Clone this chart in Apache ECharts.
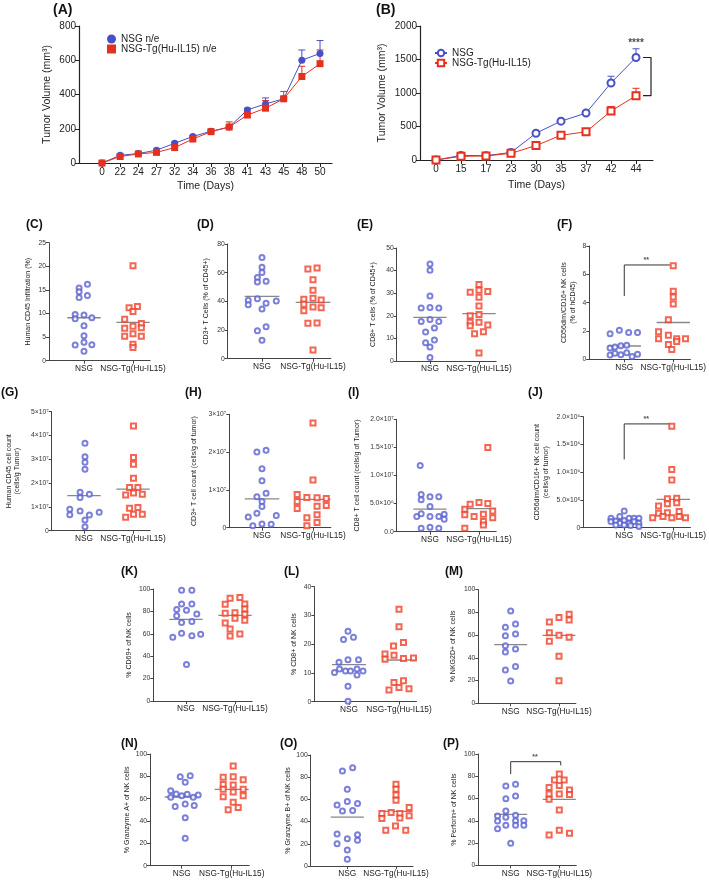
<!DOCTYPE html>
<html>
<head>
<meta charset="utf-8">
<script src="https://cdn.jsdelivr.net/npm/echarts@6/dist/echarts.min.js"></script>
<style>
html, body { margin: 0; padding: 0; background: #fff; }
#main { width: 709px; height: 881px; }
</style>
</head>
<body>
<div id="main"></div>
<script>
// ---- (A) tumour growth, n/e
var daysA = ['0', '22', '24', '27', '32', '34', '36', '38', '41', '43', '45', '48', '50'];
var nsgA = [0, 45, 55, 75, 115, 155, 185, 210, 310, 345, 375, 600, 640];
var nsgAErr = [0, 5, 5, 6, 8, 6, 6, 8, 10, 35, 12, 60, 75];
var tgA = [0, 38, 53, 62, 90, 140, 183, 210, 280, 320, 375, 505, 580];
var tgAErr = [0, 5, 5, 6, 8, 8, 8, 30, 10, 45, 43, 60, 80];

// ---- (B) tumour growth
var daysB = ['0', '15', '17', '23', '30', '35', '37', '42', '44'];
var nsgB = [0, 68, 65, 112, 400, 580, 700, 1150, 1530];
var nsgBErr = [0, 5, 5, 10, 15, 20, 40, 100, 130];
var tgB = [0, 55, 60, 100, 215, 370, 420, 730, 960];
var tgBErr = [0, 5, 5, 10, 15, 20, 40, 70, 110];

// ---- scatter panels: values and horizontal jitter (in group widths)
var cNsg = [16.2, 15.4, 14.6, 13.8, 13.4, 9.8, 9.7, 8.9, 9.1, 7.4, 5.3, 3.3, 3.9, 3.4, 2.0];
var cNsgX = [0.07, -0.1, -0.1, 0.07, -0.1, -0.18, 0, -0.18, 0.16, 0, 0, -0.18, 0, 0.16, 0];
var cTg = [20.1, 11.2, 11.5, 10.4, 8.8, 7.9, 6.9, 7.3, 7.0, 5.2, 5.7, 5.2, 3.5, 2.8];
var cTgX = [0, -0.08, 0.09, 0, -0.17, 0.17, -0.17, 0, 0.17, -0.17, 0, 0.17, 0, 0];
var cMed = [9.1, 8.1];

var dNsg = [70.5, 63.7, 60.2, 56.7, 53.5, 54.0, 40.7, 41.9, 38.6, 40.2, 37.7, 34.6, 19.5, 22.3, 12.8];
var dNsgX = [0, 0, 0, -0.09, -0.09, 0.08, -0.27, -0.09, 0.08, 0.28, -0.27, 0, -0.09, 0.08, 0];
var dTg = [62.6, 63.3, 55, 47.7, 41.4, 42.1, 41, 37.9, 36, 35.6, 33.5, 24.7, 24.9, 6.0];
var dTgX = [-0.1, 0.08, 0, 0, -0.18, 0, 0.16, -0.18, 0, 0.16, -0.18, -0.1, 0.08, 0];
var dMed = [43.5, 39.3];

var eNsg = [42.9, 40.1, 28.8, 23.5, 23.7, 23.5, 17.5, 18.4, 17.5, 14.6, 12.8, 9.3, 8.1, 6.2, 1.6];
var eNsgX = [0, 0, 0, -0.18, 0, 0.18, -0.18, 0, 0.18, 0.09, -0.09, 0.09, -0.09, 0, 0];
var eTg = [33.8, 30.4, 31.3, 30.7, 28.2, 24.3, 20.6, 20, 17.2, 17.2, 15.6, 15.9, 12.1, 12.9, 3.5];
var eTgX = [0, -0.18, 0, 0.18, 0, 0, 0, -0.18, -0.18, 0, -0.18, 0.18, -0.09, 0.09, 0];
var eMed = [19.3, 21];

var fNsg = [1.81, 2.05, 1.9, 1.9, 0.8, 0.87, 0.96, 1.0, 0.3, 0.42, 0.33, 0.47, 0.2, 0.35];
var fNsgX = [-0.29, -0.1, 0.09, 0.27, -0.29, -0.19, -0.07, 0.05, -0.29, -0.19, -0.07, 0.05, 0.16, 0.27];
var fTg = [6.6, 4.8, 4.4, 3.9, 2.8, 1.95, 1.45, 1.7, 1.45, 1.45, 1.05, 1.25, 0.7];
var fTgX = [0, 0, 0, 0, -0.1, -0.3, -0.3, -0.1, 0.07, 0.25, -0.1, 0.07, -0.03];
var fMed = [0.94, 2.6];

var gNsg = [3.67e7, 3.11e7, 2.88e7, 2.58e7, 1.62e7, 1.53e7, 1.4e7, 0.9e7, 0.83e7, 0.78e7, 0.67e7, 0.66e7, 0.45e7, 0.17e7];
var gNsgX = [0.02, 0.02, 0.02, 0.02, -0.08, 0.11, -0.08, -0.29, -0.08, 0.31, -0.29, 0.11, 0.02, 0.02];
var gTg = [4.4e7, 3.08e7, 2.79e7, 2.2e7, 1.82e7, 1.82e7, 1.5e7, 1.58e7, 1.53e7, 0.94e7, 0.98e7, 0.56e7, 0.69e7, 0.69e7];
var gTgX = [0.01, 0.01, 0.01, 0.01, -0.07, 0.1, -0.15, 0.01, 0.19, -0.07, 0.1, -0.15, 0.01, 0.19];
var gMed = [1.47e7, 1.75e7];

var hNsg = [2.0e7, 2.05e7, 1.56e7, 1.24e7, 0.91e7, 0.82e7, 0.69e7, 0.56e7, 0.28e7, 0.38e7, 0.32e7, 0.05e7, 0.1e7, 0.09e7];
var hNsgX = [-0.1, 0.08, 0, 0, 0.08, -0.1, 0, 0, -0.27, -0.1, 0.28, -0.18, 0, 0.18];
var hTg = [2.77e7, 1.26e7, 0.88e7, 0.8e7, 0.79e7, 0.77e7, 0.69e7, 0.51e7, 0.57e7, 0.59e7, 0.26e7, 0.34e7, 0.05e7, 0.14e7];
var hTgX = [0, 0, -0.31, -0.12, 0.08, 0.26, -0.31, -0.31, 0.08, 0.26, -0.12, 0.08, -0.12, 0.08];
var hMed = [0.76e7, 0.75e7];

var iNsg = [11.8e6, 6.6e6, 5.7e6, 6.2e6, 6.2e6, 4.5e6, 2.7e6, 3.2e6, 2.7e6, 2.7e6, 3.1e6, 2.2e6, 0.6e6, 0.8e6, 0.6e6];
var iNsgX = [-0.2, -0.18, -0.18, 0, 0.18, 0, -0.27, -0.18, 0, 0.18, 0.29, 0.29, -0.18, 0, 0.18];
var iTg = [15.0e6, 4.9e6, 5.2e6, 5.0e6, 4.0e6, 3.7e6, 3.0e6, 2.7e6, 3.1e6, 2.5e6, 1.8e6, 0.6e6, 1.2e6];
var iTgX = [0.18, -0.18, 0, 0.18, -0.29, 0.28, -0.29, -0.1, 0.09, 0.28, 0.09, -0.29, 0.09];
var iMed = [4.0e6, 4.1e6];

var jNsg = [3.0e5, 1.7e5, 2.0e5, 1.7e5, 1.7e5, 1.7e5, 1.1e5, 1.2e5, 0.8e5, 1.3e5, 0.8e5, 1.1e5, 0.8e5, 0.5e5, 0.5e5, 0.4e5, 0.2e5];
var jNsgX = [0, -0.27, -0.09, 0.1, 0.2, 0.3, -0.27, -0.17, -0.09, 0, 0.1, 0.2, 0.3, -0.17, 0, 0.13, 0.3];
var jTg = [18.3e5, 10.5e5, 8.6e5, 5.2e5, 5.3e5, 3.9e5, 4.3e5, 4.5e5, 2.6e5, 2.7e5, 2.9e5, 1.8e5, 2.0e5, 1.8e5, 2.0e5, 1.8e5];
var jTgX = [-0.03, -0.03, -0.03, -0.12, 0.07, -0.3, -0.12, 0.07, -0.3, -0.12, 0.12, -0.42, -0.21, -0.03, 0.12, 0.25];
var jMed = [1.4e5, 5.1e5];

var kNsg = [98.8, 98.8, 86.6, 86.6, 81.8, 81, 76.2, 77.7, 70, 71, 57, 60.4, 58.3, 59.5, 32.7];
var kNsgX = [-0.09, 0.12, -0.09, 0.12, -0.19, 0.01, -0.19, 0.22, -0.09, 0.12, -0.27, -0.09, 0.12, 0.3, 0.01];
var kTg = [91.7, 92.3, 86.3, 86.6, 82.1, 78.3, 78.9, 77.4, 73.8, 72, 69.6, 64.3, 58, 59.8];
var kTgX = [-0.1, 0.1, -0.2, 0.2, 0.2, -0.2, 0, 0.2, 0, 0.2, -0.2, -0.1, -0.1, 0.1];
var kMed = [72.9, 76.5];

var lNsg = [24.5, 21.6, 22.4, 13.7, 14.6, 14.6, 10.2, 11.4, 10.7, 10.7, 11.4, 9.3, 10.7, 5.4, 0.2];
var lNsgX = [-0.02, -0.11, 0.09, -0.2, -0.02, 0.19, -0.29, -0.19, -0.07, 0.03, 0.16, 0.16, 0.28, -0.02, -0.02];
var lTg = [32.2, 26.1, 19.4, 20.6, 16.6, 16.2, 14.8, 15.0, 15.2, 6.7, 7.3, 4.1, 4.9, 4.5];
var lTgX = [0, 0, -0.11, 0.09, -0.28, -0.1, -0.28, 0.09, 0.29, -0.1, 0.09, -0.2, 0, 0.2];
var lMed = [12.9, 14.5];

var mNsg = [81.2, 66.9, 69.8, 59.5, 61, 50.7, 45.2, 47.8, 29.3, 32.3, 19.6];
var mNsgX = [0, -0.11, 0.1, -0.11, 0.1, -0.11, -0.11, 0.1, -0.11, 0.1, 0];
var mTg = [71.6, 75.4, 78.3, 73.3, 62, 54.5, 59.8, 58, 41.3, 19.9];
var mTgX = [-0.2, 0, 0.21, 0.21, -0.2, -0.2, 0, 0.21, 0, 0];
var mMed = [51.6, 59.8];

var nNsg = [79.7, 80.6, 74.6, 67.2, 64.2, 62.7, 63.9, 63.3, 61.2, 61.2, 53.1, 55.2, 54, 43, 24.5];
var nNsgX = [-0.03, 0.17, 0.07, -0.22, -0.11, 0, 0.11, 0.33, -0.22, 0.23, -0.13, 0.07, 0.25, 0.07, 0.07];
var nTg = [89.3, 79.1, 79.7, 77, 72.8, 72.2, 68.4, 68.4, 66, 61.8, 62.7, 56.7, 50, 52.2];
var nTgX = [0.03, -0.17, 0.03, 0.23, -0.17, 0.03, -0.17, 0.23, 0.03, -0.17, 0.23, 0.03, -0.07, 0.13];
var nMed = [61.5, 68.4];

var oNsg = [85.6, 88.6, 69.1, 55, 58, 56.2, 49.5, 50.1, 28.8, 28.2, 20.1, 24.6, 23.1, 14.4, 6];
var oNsgX = [-0.1, 0.11, 0, -0.21, 0, 0.21, -0.1, 0.11, -0.21, 0.21, -0.21, 0, 0.21, 0, 0];
var oTg = [73.6, 69.1, 64, 59.2, 47.4, 48.3, 47.4, 52.6, 42.9, 43.2, 45.3, 32.1, 36, 32.1];
var oTgX = [0, 0, 0, 0, -0.29, -0.1, 0.08, 0.27, -0.29, 0.08, 0.27, -0.21, -0.01, 0.2];
var oMed = [44.1, 49.2];

var pNsg = [71.3, 72.8, 62.3, 59.9, 48.8, 44.3, 43.1, 44.9, 39.8, 40.1, 40.1, 32.9, 35.9, 35.9, 35.9, 19.8];
var pNsgX = [-0.1, 0.1, 0.1, -0.1, -0.1, -0.27, -0.1, 0.1, -0.27, 0.1, 0.27, -0.27, -0.1, 0.1, 0.27, 0];
var pTg = [82, 76.6, 76.6, 69.8, 71.6, 67.7, 64.1, 64.1, 63.5, 59.3, 49.7, 31.4, 27.2, 28.7];
var pTgX = [0, -0.1, 0.1, -0.21, 0, 0.21, -0.21, 0, 0.21, -0.21, 0, 0, -0.21, 0.21];
var pMed = [45.8, 59.3];

var groupNames = ['NSG', 'NSG-Tg(Hu-IL15)'];

var FONT = 'Liberation Sans, Arial, sans-serif';
var BLUE = '#4a4fc6', RED = '#e5301d';
var SBLUE = '#5a60cf', SRED = '#ef4028';
var AX = '#444';

var chart = echarts.init(document.getElementById('main'));
var grids = [], xAxes = [], yAxes = [], series = [], titles = [];

function addTitle(t, x, y, size) {
  titles.push({ text: t, left: x, top: y, padding: 0,
    textStyle: { fontSize: size, fontWeight: 'bold', color: '#111', fontFamily: FONT } });
}

function errSeries(gi, means, errs, color) {
  return {
    type: 'custom', xAxisIndex: gi, yAxisIndex: gi, z: 1, silent: true,
    data: means.map(function (m, i) { return [i, m, m + errs[i]]; }),
    renderItem: function (params, api) {
      var p0 = api.coord([api.value(0), api.value(1)]);
      var p1 = api.coord([api.value(0), api.value(2)]);
      var st = { stroke: color, lineWidth: 1 };
      return { type: 'group', children: [
        { type: 'line', shape: { x1: p0[0], y1: p0[1], x2: p1[0], y2: p1[1] }, style: st },
        { type: 'line', shape: { x1: p1[0] - 3.5, y1: p1[1], x2: p1[0] + 3.5, y2: p1[1] }, style: st }
      ] };
    }
  };
}

function growthPanel(p) {
  var gi = grids.length;
  var xmin = -(p.x0 - p.left) / p.step;
  var xmax = xmin + (p.right - p.left) / p.step;
  var idx = p.days.map(function (d, i) { return i; });
  grids.push({ left: p.left, top: p.top, width: p.right - p.left, height: p.bottom - p.top });
  xAxes.push({
    gridIndex: gi, type: 'value', min: xmin, max: xmax, splitLine: { show: false },
    axisLine: { show: true, onZero: false, lineStyle: { color: '#222', width: 1.2 } },
    axisTick: { show: true, customValues: idx, length: 4, lineStyle: { color: '#222' } },
    axisLabel: { customValues: idx, formatter: function (v) { return p.days[Math.round(v)]; },
      fontSize: 10, color: '#222', margin: 4, fontFamily: FONT },
    name: 'Time (Days)', nameLocation: 'middle', nameGap: p.xGap,
    nameTextStyle: { fontSize: 10.5, color: '#222', fontFamily: FONT }
  });
  yAxes.push({
    gridIndex: gi, type: 'value', min: 0, max: p.ymax, interval: p.yint, splitLine: { show: false },
    axisLine: { show: true, onZero: false, lineStyle: { color: '#222', width: 1.2 } },
    axisTick: { show: true, length: 4, lineStyle: { color: '#222' } },
    axisLabel: { fontSize: 10, color: '#222', margin: 3, fontFamily: FONT,
      formatter: function (v) { return String(v); } },
    name: 'Tumor Volume (mm³)', nameLocation: 'middle', nameGap: p.yGap,
    nameTextStyle: { fontSize: 10.5, color: '#222', fontFamily: FONT }
  });
  series.push(errSeries(gi, p.nsg, p.nsgErr, BLUE));
  series.push(errSeries(gi, p.tg, p.tgErr, RED));
  series.push({ type: 'line', name: p.names[0], xAxisIndex: gi, yAxisIndex: gi, z: 3,
    data: p.nsg.map(function (v, i) { return [i, v]; }), symbol: p.sym[0], symbolSize: p.size,
    lineStyle: { color: BLUE, width: 1 }, itemStyle: { color: BLUE, borderWidth: p.bw } });
  series.push({ type: 'line', name: p.names[1], xAxisIndex: gi, yAxisIndex: gi, z: 4,
    data: p.tg.map(function (v, i) { return [i, v]; }), symbol: p.sym[1], symbolSize: p.size,
    lineStyle: { color: RED, width: 1 }, itemStyle: { color: RED, borderWidth: p.bw } });
  return gi;
}

function scatterPanel(p) {
  var gi = grids.length;
  var xmin = 1 - (p.nsg - p.left) / p.sp, xmax = 2.35;
  grids.push({ left: p.left, top: p.top, width: (xmax - xmin) * p.sp, height: p.bottom - p.top });
  xAxes.push({
    gridIndex: gi, type: 'value', min: xmin, max: xmax, splitLine: { show: false },
    axisLine: { show: true, onZero: false, lineStyle: { color: AX, width: 1 } },
    axisTick: { show: true, customValues: [1, 2], length: 3, lineStyle: { color: AX } },
    axisLabel: { customValues: [1, 2], formatter: function (v) { return groupNames[Math.round(v) - 1]; },
      fontSize: 8.3, color: '#222', margin: 4, fontFamily: FONT }
  });
  yAxes.push({
    gridIndex: gi, type: 'value', min: 0, max: p.max, interval: p.int, splitLine: { show: false },
    axisLine: { show: true, onZero: false, lineStyle: { color: AX, width: 1 } },
    axisTick: { show: true, length: 3, lineStyle: { color: AX } },
    axisLabel: { fontSize: 6.8, color: '#333', margin: 3, fontFamily: FONT, formatter: p.fmt },
    name: p.name, nameLocation: 'middle', nameGap: p.gap,
    nameTextStyle: { fontSize: 7, color: '#222', fontFamily: FONT, lineHeight: 8.5 }
  });
  var d = p.data;
  series.push({ type: 'line', xAxisIndex: gi, yAxisIndex: gi, symbol: 'none', silent: true, z: 2,
    data: [[0.66, d[4][0]], [1.34, d[4][0]]], lineStyle: { color: '#888', width: 1.3 } });
  series.push({ type: 'line', xAxisIndex: gi, yAxisIndex: gi, symbol: 'none', silent: true, z: 2,
    data: [[1.66, d[4][1]], [2.34, d[4][1]]], lineStyle: { color: '#888', width: 1.3 } });
  series.push({ type: 'scatter', name: p.key + '-NSG', xAxisIndex: gi, yAxisIndex: gi, z: 3,
    data: d[0].map(function (v, i) { return [1 + d[1][i], v]; }),
    symbol: 'emptyCircle', symbolSize: 5, itemStyle: { color: SBLUE, borderWidth: 1.1 } });
  series.push({ type: 'scatter', name: p.key + '-Tg', xAxisIndex: gi, yAxisIndex: gi, z: 3,
    data: d[2].map(function (v, i) { return [2 + d[3][i], v]; }),
    symbol: 'emptyRect', symbolSize: 5, itemStyle: { color: SRED, borderWidth: 1.1 } });
  if (p.bracket) {
    series.push({ type: 'line', xAxisIndex: gi, yAxisIndex: gi, symbol: 'none', silent: true, z: 2,
      data: p.bracket, lineStyle: { color: '#333', width: 1 } });
    series.push({ type: 'scatter', xAxisIndex: gi, yAxisIndex: gi, symbolSize: 1, silent: true,
      itemStyle: { color: 'rgba(0,0,0,0)' }, data: [p.star],
      label: { show: true, position: 'inside', formatter: '**', fontSize: 7, fontWeight: 'bold', color: '#222' } });
  }
  addTitle('(' + p.key + ')', p.tx, p.ty, 12);
}

// (A)
growthPanel({ left: 79, right: 332, top: 26, bottom: 163, x0: 102, step: 18.17, days: daysA,
  ymax: 800, yint: 200, xGap: 18, yGap: 26, nsg: nsgA, nsgErr: nsgAErr, tg: tgA, tgErr: tgAErr,
  names: ['NSG n/e', 'NSG-Tg(Hu-IL15) n/e'], sym: ['circle', 'rect'], size: 7, bw: 0 });
addTitle('(A)', 53, 3, 14);

// (B)
var gB = growthPanel({ left: 420, right: 653, top: 26, bottom: 160, x0: 436, step: 25, days: daysB,
  ymax: 2000, yint: 500, xGap: 20, yGap: 32, nsg: nsgB, nsgErr: nsgBErr, tg: tgB, tgErr: tgBErr,
  names: ['NSG', 'NSG-Tg(Hu-IL15)'], sym: ['emptyCircle', 'emptyRect'], size: 7, bw: 1.2 });
addTitle('(B)', 376, 3, 14);
var lastB = nsgB.length - 1;
series.push({ type: 'line', xAxisIndex: gB, yAxisIndex: gB, symbol: 'none', silent: true,
  data: [[lastB + 0.28, nsgB[lastB]], [lastB + 0.6, nsgB[lastB]], [lastB + 0.6, tgB[lastB]], [lastB + 0.28, tgB[lastB]]],
  lineStyle: { color: '#222', width: 1.2 } });
series.push({ type: 'scatter', xAxisIndex: gB, yAxisIndex: gB, symbolSize: 1, silent: true,
  itemStyle: { color: 'rgba(0,0,0,0)' }, data: [[lastB, nsgB[lastB] + nsgBErr[lastB] + 90]],
  label: { show: true, position: 'inside', formatter: '****', fontSize: 10, fontWeight: 'bold', color: '#222' } });

function fmtPow(v, unit, exp, dec) {
  return (v / unit).toFixed(dec) + '×10' + exp;
}

scatterPanel({ key: 'C', left: 49, nsg: 84, sp: 49, top: 242.7, bottom: 360.7, max: 25, int: 5,
  name: 'Human CD45 Infiltration (%)', gap: 17, data: [cNsg, cNsgX, cTg, cTgX, cMed], tx: 26, ty: 219 });
scatterPanel({ key: 'D', left: 227.7, nsg: 262, sp: 51, top: 244, bottom: 358.7, max: 80, int: 20,
  name: 'CD3+ T Cells (% of CD45+)', gap: 17, data: [dNsg, dNsgX, dTg, dTgX, dMed], tx: 197, ty: 219 });
scatterPanel({ key: 'E', left: 396.7, nsg: 430, sp: 49, top: 248, bottom: 361, max: 50, int: 10,
  name: 'CD8+ T cells (% of CD45+)', gap: 19, data: [eNsg, eNsgX, eTg, eTgX, eMed], tx: 357, ty: 219 });
scatterPanel({ key: 'F', left: 589.3, nsg: 625, sp: 50, top: 246, bottom: 359.3, max: 8, int: 2,
  name: 'CD56dim/CD16+ NK cells\n(% of hCD45)', gap: 12, data: [fNsg, fNsgX, fTg, fTgX, fMed], tx: 557, ty: 219,
  bracket: [[1, 4.47], [1, 6.66], [1.93, 6.66]], star: [1.45, 7.0] });

scatterPanel({ key: 'G', left: 51.7, nsg: 84, sp: 49, top: 411.7, bottom: 530.7, max: 5e7, int: 1e7,
  name: 'Human CD45 cell count\n(cells/g Tumor)', gap: 30, data: [gNsg, gNsgX, gTg, gTgX, gMed], tx: 1, ty: 387,
  fmt: function (v) { return v === 0 ? '0' : fmtPow(v, 1e7, '⁷', 0); } });
scatterPanel({ key: 'H', left: 229.3, nsg: 262, sp: 51, top: 414.3, bottom: 527.7, max: 3e7, int: 1e7,
  name: 'CD3+ T cell count (cells/g of tumor)', gap: 31, data: [hNsg, hNsgX, hTg, hTgX, hMed], tx: 185, ty: 387,
  fmt: function (v) { return v === 0 ? '0' : fmtPow(v, 1e7, '⁷', 0); } });
scatterPanel({ key: 'I', left: 396.7, nsg: 430, sp: 49, top: 419.3, bottom: 531.7, max: 2e7, int: 5e6,
  name: 'CD8+ T cell count (cells/g of Tumor)', gap: 35, data: [iNsg, iNsgX, iTg, iTgX, iMed], tx: 348, ty: 387,
  fmt: function (v) { return v === 0 ? '0.0' : v < 1e7 ? fmtPow(v, 1e6, '⁶', 1) : fmtPow(v, 1e7, '⁷', 1); } });
scatterPanel({ key: 'J', left: 583.3, nsg: 625, sp: 50, top: 416.7, bottom: 527.7, max: 2e6, int: 5e5,
  name: 'CD56dim/CD16+ NK cell count\n(cells/g of tumor)', gap: 33, data: [jNsg, jNsgX, jTg, jTgX, jMed], tx: 528, ty: 387,
  fmt: function (v) { return v === 0 ? '0' : v < 1e6 ? fmtPow(v, 1e5, '⁵', 1) : fmtPow(v, 1e6, '⁶', 1); },
  bracket: [[1, 1.23e6], [1, 1.87e6], [1.93, 1.87e6]], star: [1.45, 1.95e6] });

scatterPanel({ key: 'K', left: 153.3, nsg: 186, sp: 49, top: 589, bottom: 701, max: 100, int: 20,
  name: '% CD69+ of NK cells', gap: 20, data: [kNsg, kNsgX, kTg, kTgX, kMed], tx: 121, ty: 566 });
scatterPanel({ key: 'L', left: 314.3, nsg: 349, sp: 50, top: 586.7, bottom: 701.7, max: 40, int: 10,
  name: '% CD8+ of NK cells', gap: 16, data: [lNsg, lNsgX, lTg, lTgX, lMed], tx: 284, ty: 566 });
scatterPanel({ key: 'M', left: 478.3, nsg: 510.7, sp: 48.3, top: 589.6, bottom: 703.3, max: 100, int: 20,
  name: '% NKG2D+ of NK cells', gap: 21, data: [mNsg, mNsgX, mTg, mTgX, mMed], tx: 445, ty: 566 });

scatterPanel({ key: 'N', left: 150, nsg: 181.7, sp: 50, top: 754, bottom: 865.7, max: 100, int: 20,
  name: '% Granzyme A+ of NK cells', gap: 19, data: [nNsg, nNsgX, nTg, nTgX, nMed], tx: 121, ty: 738 });
scatterPanel({ key: 'O', left: 310.7, nsg: 347.3, sp: 48.7, top: 755, bottom: 866, max: 100, int: 20,
  name: '% Granzyme B+ of NK cells', gap: 17, data: [oNsg, oNsgX, oTg, oTgX, oMed], tx: 280, ty: 738 });
scatterPanel({ key: 'P', left: 478.3, nsg: 510.7, sp: 48.6, top: 754, bottom: 865.3, max: 100, int: 20,
  name: '% Perforin+ of NK cells', gap: 20, data: [pNsg, pNsgX, pTg, pTgX, pMed], tx: 443, ty: 738,
  bracket: [[1, 82], [1, 93.1], [2.03, 93.1], [2.03, 89.8]], star: [1.5, 97] });

chart.setOption({
  animation: false,
  textStyle: { fontFamily: FONT },
  title: titles,
  legend: [
    { left: 102, top: 29, orient: 'vertical', itemGap: 0, itemWidth: 9, itemHeight: 9, selectedMode: false,
      data: [{ name: 'NSG n/e', icon: 'circle' }, { name: 'NSG-Tg(Hu-IL15) n/e', icon: 'rect' }],
      textStyle: { fontSize: 10, color: '#222', fontFamily: FONT } },
    { left: 429, top: 43, orient: 'vertical', itemGap: 0, itemWidth: 12, itemHeight: 8, selectedMode: false,
      data: ['NSG', 'NSG-Tg(Hu-IL15)'],
      textStyle: { fontSize: 10, color: '#222', fontFamily: FONT } }
  ],
  grid: grids,
  xAxis: xAxes,
  yAxis: yAxes,
  series: series
});
</script>
</body>
</html>
